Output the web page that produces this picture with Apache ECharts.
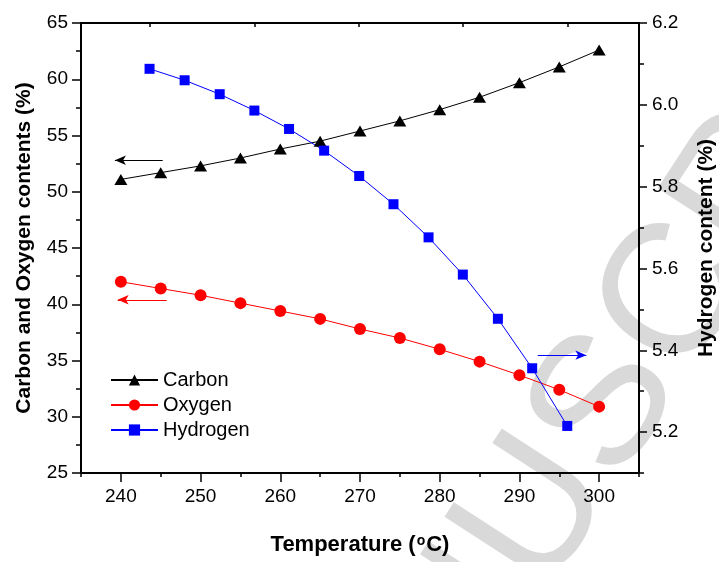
<!DOCTYPE html>
<html>
<head>
<meta charset="utf-8">
<script src="https://cdn.jsdelivr.net/npm/echarts@6/dist/echarts.min.js"></script>
<style>html,body{margin:0;padding:0;background:#fff;}#c{width:719px;height:562px;}</style>
</head>
<body>
<div id="c"></div>
<script>
// ---- data ----
var temperatures = [240, 245, 250, 255, 260, 265, 270, 275, 280, 285, 290, 295, 300];
var carbon = [51.1, 51.7, 52.3, 53.0, 53.8, 54.5, 55.4, 56.3, 57.3, 58.4, 59.7, 61.1, 62.6];
var oxygen = [42.0, 41.4, 40.8, 40.1, 39.4, 38.7, 37.8, 37.0, 36.0, 34.9, 33.7, 32.4, 30.9];
var hydrogenTemps = [243.6, 248.0, 252.4, 256.75, 261.1, 265.5, 269.9, 274.2, 278.6, 282.9, 287.3, 291.6, 296.0];
var hydrogen = [6.088, 6.060, 6.026, 5.986, 5.941, 5.888, 5.826, 5.757, 5.676, 5.585, 5.477, 5.356, 5.215];
var xTickLabels = [240, 250, 260, 270, 280, 290, 300];
var leftTickLabels = [25, 30, 35, 40, 45, 50, 55, 60, 65];
var rightTickLabels = [5.2, 5.4, 5.6, 5.8, 6.0, 6.2];
// arrow annotations: [x0, y0, x1, y1] in data units
var carbonArrow = [245.25, 52.8, 239.25, 52.8];
var oxygenArrow = [245.75, 40.4, 239.6, 40.4];
var hydrogenArrow = [292.3, 5.388, 298.4, 5.388];

var FONT = '"Liberation Sans", Arial, Helvetica, sans-serif';
var topTicks = hydrogenTemps.filter(function (v, i) { return i % 3 === 0; });

function pair(a) { return a.map(function (v, i) { return [temperatures[i], v]; }); }
function arrowLine(a, color) {
  return {
    silent: true,
    symbol: ['none', 'arrow'],
    symbolSize: [7, 11],
    label: { show: false },
    lineStyle: { color: color, width: 1.2, type: 'solid' },
    emphasis: { disabled: true },
    animation: false,
    data: [[{ coord: [a[0], a[1]] }, { coord: [a[2], a[3]] }]]
  };
}

var chart = echarts.init(document.getElementById('c'), null, { renderer: 'canvas' });
var axisLineStyle = { color: '#000', width: 2 };
chart.setOption({
  animation: false,
  backgroundColor: '#fff',
  textStyle: { fontFamily: FONT },
  grid: { left: 81, right: 80, top: 23, bottom: 89, containLabel: false, outerBoundsMode: 'none' },
  graphic: [{
    type: 'text',
    silent: true,
    z: -10,
    x: 610, y: 402,
    rotation: 57 * Math.PI / 180,
    style: {
      text: 'MANUSCRIPT',
      fill: '#d9d9d9',
      font: '185px ' + FONT,
      align: 'center',
      verticalAlign: 'middle'
    }
  }],
  legend: {
    orient: 'vertical',
    left: 105, top: 365,
    itemWidth: 47, itemHeight: 14, itemGap: 5,
    textStyle: { fontSize: 20, color: '#000', fontFamily: FONT },
    data: ['Carbon', 'Oxygen', 'Hydrogen']
  },
  xAxis: [{
    type: 'value', position: 'bottom', min: 235, max: 305,
    axisLine: { show: true, onZero: false, lineStyle: axisLineStyle },
    axisTick: { show: true, inside: false, length: 9, customValues: xTickLabels, lineStyle: { color: '#000', width: 1.5 } },
    axisLabel: { customValues: xTickLabels, fontSize: 19, color: '#000', margin: 14, fontFamily: FONT },
    splitLine: { show: false },
    name: '{n|Temperature (}{s|o}{n|C)}',
    nameLocation: 'middle', nameGap: 61,
    nameTextStyle: {
      rich: {
        n: { fontSize: 22, fontWeight: 'bold', color: '#000', fontFamily: FONT },
        s: { fontSize: 14, fontWeight: 'bold', color: '#000', fontFamily: FONT, verticalAlign: 'top', padding: [0, 1, 0, 1] }
      }
    }
  }, {
    type: 'value', position: 'bottom', min: 235, max: 305, interval: 5,
    axisLine: { show: false, onZero: false },
    axisTick: { show: true, inside: false, length: 4, lineStyle: { color: '#000', width: 1.5 } },
    axisLabel: { show: false },
    splitLine: { show: false }
  }, {
    type: 'value', position: 'top', min: 235, max: 305,
    axisLine: { show: true, onZero: false, lineStyle: axisLineStyle },
    axisTick: { show: true, inside: true, length: 4, customValues: topTicks, lineStyle: { color: '#000', width: 1.5 } },
    axisLabel: { show: false },
    splitLine: { show: false }
  }],
  yAxis: [{
    type: 'value', position: 'left', min: 25, max: 65, interval: 5,
    axisLine: { show: true, onZero: false, lineStyle: axisLineStyle },
    axisTick: { show: true, inside: false, length: 9, lineStyle: { color: '#000', width: 1.5 } },
    minorTick: { show: true, splitNumber: 2, length: 5, lineStyle: { color: '#000', width: 1.5 } },
    axisLabel: { fontSize: 19, color: '#000', margin: 13, fontFamily: FONT,
      customValues: leftTickLabels },
    splitLine: { show: false }, minorSplitLine: { show: false },
    name: 'Carbon and Oxygen contents (%)',
    nameLocation: 'middle', nameGap: 46, nameRotate: 90,
    nameTextStyle: { fontSize: 21, fontWeight: 'bold', color: '#000', fontFamily: FONT }
  }, {
    type: 'value', position: 'right', min: 5.1, max: 6.2,
    axisLine: { show: true, onZero: false, lineStyle: axisLineStyle },
    axisTick: { show: true, inside: false, length: 8, customValues: rightTickLabels, lineStyle: { color: '#000', width: 1.5 } },
    axisLabel: { customValues: rightTickLabels, fontSize: 19, color: '#000', margin: 13, fontFamily: FONT,
      formatter: function (v) { return (+v).toFixed(1); } },
    splitLine: { show: false },
    name: 'Hydrogen content (%)',
    nameLocation: 'middle', nameGap: 57, nameRotate: 90,
    nameTextStyle: { fontSize: 21, fontWeight: 'bold', color: '#000', fontFamily: FONT }
  }, {
    type: 'value', position: 'right', min: 5.1, max: 6.2, interval: 0.1,
    axisLine: { show: false, onZero: false },
    axisTick: { show: true, inside: false, length: 5, lineStyle: { color: '#000', width: 1.5 } },
    axisLabel: { show: false },
    splitLine: { show: false }
  }],
  series: [{
    name: 'Carbon', type: 'line', xAxisIndex: 0, yAxisIndex: 0,
    data: pair(carbon),
    symbol: 'triangle', symbolSize: [13, 11],
    itemStyle: { color: '#000' },
    lineStyle: { color: '#000', width: 1 },
    markLine: arrowLine(carbonArrow, '#000'),
    z: 3
  }, {
    name: 'Oxygen', type: 'line', xAxisIndex: 0, yAxisIndex: 0,
    data: pair(oxygen),
    symbol: 'circle', symbolSize: 12,
    itemStyle: { color: '#ff0000' },
    lineStyle: { color: '#ff0000', width: 1 },
    markLine: arrowLine(oxygenArrow, '#ff0000'),
    z: 3
  }, {
    name: 'Hydrogen', type: 'line', xAxisIndex: 0, yAxisIndex: 1,
    data: hydrogenTemps.map(function (t, i) { return [t, hydrogen[i]]; }),
    symbol: 'rect', symbolSize: 10,
    itemStyle: { color: '#0000ff' },
    lineStyle: { color: '#0000ff', width: 1 },
    markLine: arrowLine(hydrogenArrow, '#0000ff'),
    z: 3
  }]
});
</script>
</body>
</html>
